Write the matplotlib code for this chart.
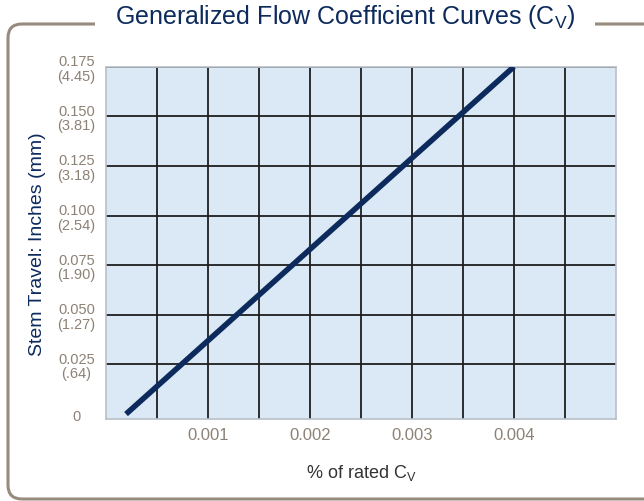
import matplotlib
matplotlib.use('Agg')
import matplotlib.pyplot as plt
from matplotlib.patches import FancyBboxPatch
from matplotlib.transforms import IdentityTransform

plt.rcParams['font.family'] = ['Liberation Sans', 'DejaVu Sans']
plt.rcParams['mathtext.fontset'] = 'custom'
plt.rcParams['mathtext.rm'] = 'Liberation Sans'

# Data
rated_cv = [0.0002, 0.004]
stem_travel = [0.0, 0.175]

y_ticks = [0, 0.025, 0.050, 0.075, 0.100, 0.125, 0.150, 0.175]
y_labels = ['0', '0.025\n(.64)', '0.050\n(1.27)', '0.075\n(1.90)', '0.100\n(2.54)',
            '0.125\n(3.18)', '0.150\n(3.81)', '0.175\n(4.45)']
x_ticks = [0.001, 0.002, 0.003, 0.004]
x_labels = ['0.001', '0.002', '0.003', '0.004']
x_grid = [0.0005 * k for k in range(1, 10)]

navy = '#0c2a5c'
tick_grey = '#8c8276'
frame_grey = '#978b7d'

fig = plt.figure(figsize=(6.44, 5.02), dpi=100)

# outer rounded frame (runs off the right edge), pixel coords
frame = FancyBboxPatch((8, 2), 700, 475, boxstyle='round,pad=0,rounding_size=14',
                       transform=IdentityTransform(), fill=False,
                       edgecolor=frame_grey, linewidth=2.2, zorder=0)
fig.add_artist(frame)

fig.text(345 / 644, 1 - 17 / 502, 'Generalized Flow Coefficient Curves ($\\mathregular{C_V}$)',
         ha='center', va='center', fontsize=18, color=navy, zorder=5,
         bbox=dict(facecolor='white', edgecolor='none', pad=14))

ax = fig.add_axes([0.164, 0.1633, 0.7925, 0.7018])
ax.set_facecolor('#dbe8f5')
ax.plot(rated_cv, stem_travel, color=navy, linewidth=4, solid_capstyle='butt', zorder=3)

ax.set_xlim(0, 0.005)
ax.set_ylim(-0.0025, 0.175)

for gx in x_grid:
    ax.axvline(gx, color='#1e1e1e', linewidth=1.3, zorder=2)
for gy in y_ticks[1:]:
    ax.axhline(gy, color='#1e1e1e', linewidth=1.3, zorder=2)

ax.set_xticks(x_ticks)
ax.set_xticklabels(x_labels, fontsize=12, color=tick_grey)
ax.set_yticks(y_ticks)
ax.set_yticklabels(y_labels, fontsize=10.5, color=tick_grey, linespacing=1.05)
ax.tick_params(length=0)
ax.tick_params(axis='x', pad=6)
ax.tick_params(axis='y', pad=21)
for lab in ax.get_yticklabels():
    lab.set_horizontalalignment('center')
    lab.set_multialignment('center')

for s in ax.spines.values():
    s.set_color('#b8c0c8')
    s.set_linewidth(1.2)

ax.set_ylabel('Stem Travel: Inches (mm)', fontsize=14, color=navy)
ax.yaxis.set_label_coords(-60 / 510, 0.5)
ax.set_xlabel('% of rated $\\mathregular{C_V}$', fontsize=13, color='#333333', labelpad=14)

fig.savefig('out.png', dpi=100)
